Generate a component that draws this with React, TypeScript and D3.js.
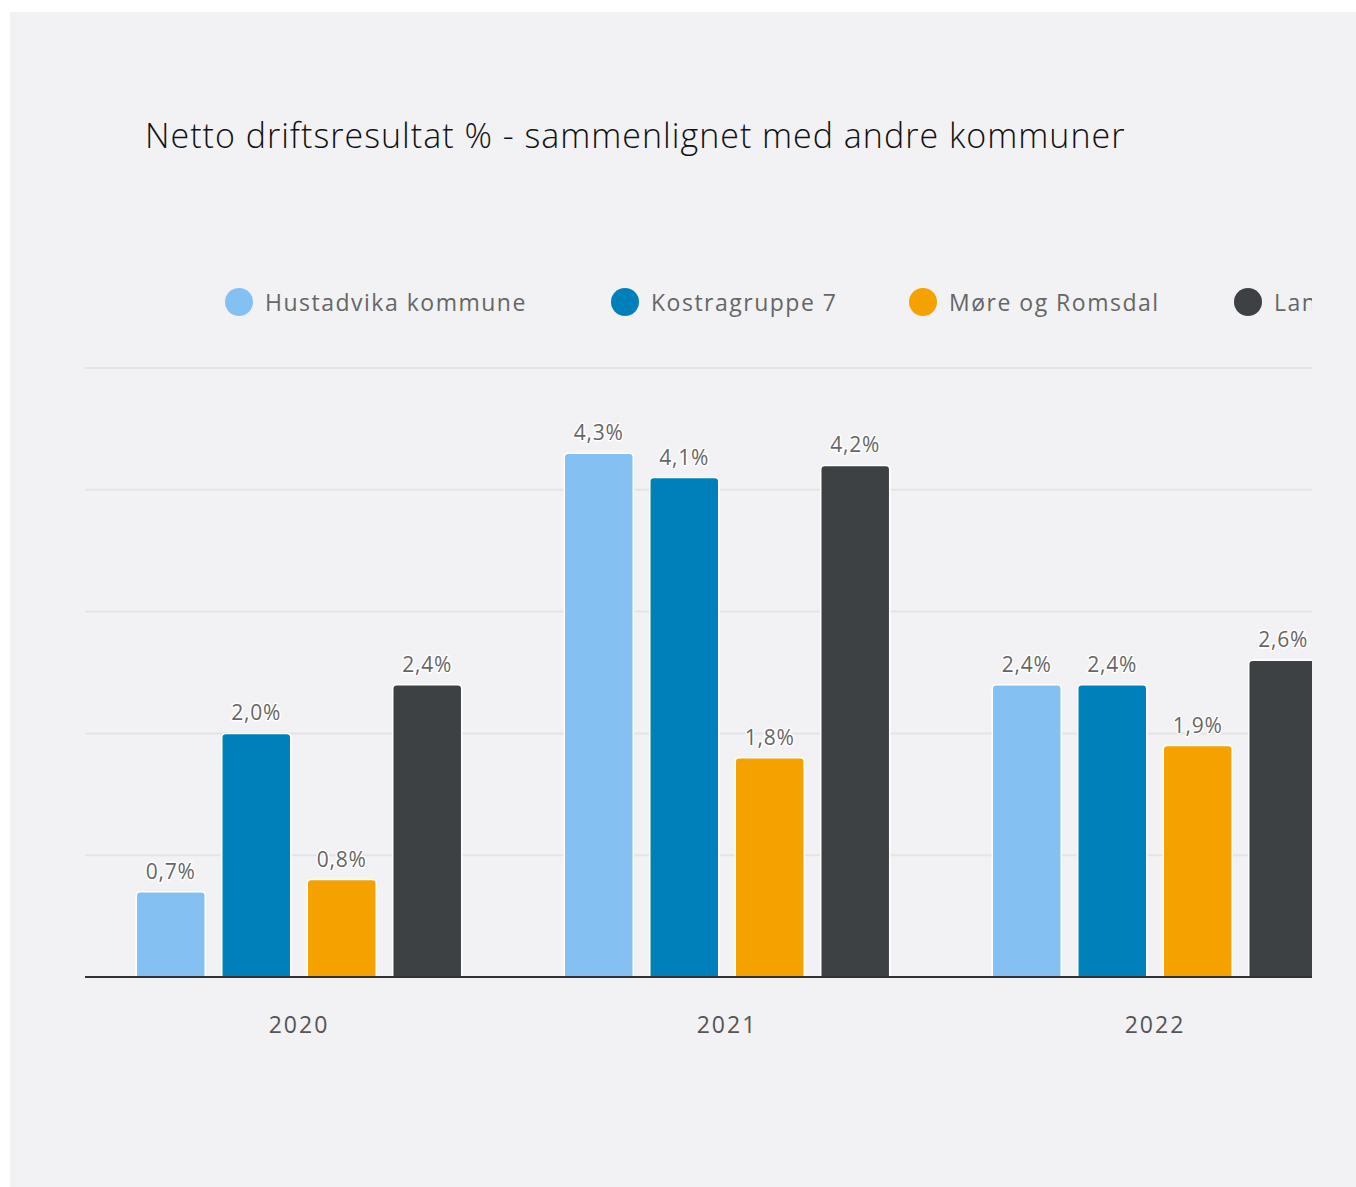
import React, { useRef, useEffect } from 'react';
import * as d3 from 'd3';

const years = ['2020', '2021', '2022'];
const seriesNames = ['Hustadvika kommune', 'Kostragruppe 7', 'Møre og Romsdal', 'Landet uten Oslo'];
const hustadvika = [0.7, 4.3, 2.4];
const kostra7 = [2.0, 4.1, 2.4];
const moreRomsdal = [0.8, 1.8, 1.9];
const landet = [2.4, 4.2, 2.6];
const colors = ['#85c0f3', '#0080bb', '#f5a100', '#3d4143'];
const yTicks = [0, 1, 2, 3, 4, 5];
const legendX = [225, 611, 909, 1234];

const W = 1346;
const H = 1175;
const FONT = '"Open Sans", Lato, sans-serif';

export default function App() {
  const svgRef = useRef<SVGSVGElement>(null);

  useEffect(() => {
    if (!svgRef.current) return;
    const svg = d3.select(svgRef.current);
    svg.selectAll('*').remove();

    const values = [hustadvika, kostra7, moreRomsdal, landet];
    const left = 75, right = 1302, top = 356, bottom = 965;

    svg.append('rect').attr('width', W).attr('height', H).attr('fill', '#f2f2f4');

    svg.append('defs').append('clipPath').attr('id', 'plotclip')
      .append('rect').attr('x', 0).attr('y', 0).attr('width', right).attr('height', H);

    svg.append('text')
      .attr('x', 135).attr('y', 136)
      .attr('font-family', FONT).attr('font-size', 34).attr('font-weight', 300)
      .attr('letter-spacing', 1).attr('fill', '#111')
      .text('Netto driftsresultat % - sammenlignet med andre kommuner');

    const root = svg.append('g').attr('clip-path', 'url(#plotclip)');

    // legend
    const leg = root.append('g');
    seriesNames.forEach((name, i) => {
      const g = leg.append('g').attr('transform', `translate(${legendX[i] - 10},290)`);
      g.append('circle').attr('cx', 14).attr('cy', 0).attr('r', 14).attr('fill', colors[i]);
      g.append('text').attr('x', 40).attr('y', 8.5)
        .attr('font-family', FONT).attr('font-size', 23).attr('letter-spacing', 1.5)
        .attr('fill', '#666')
        .text(name);
    });

    const x = d3.scaleBand().domain(years).range([left, left + 428 * 3]).padding(0);
    const xSub = d3.scaleBand().domain(seriesNames).range([0, x.bandwidth()])
      .paddingInner(0.193).paddingOuter(0.6);
    const y = d3.scaleLinear().domain([0, 5]).range([bottom, top]);

    root.append('g').selectAll('line').data(yTicks.slice(1)).join('line')
      .attr('x1', left).attr('x2', right)
      .attr('y1', d => y(d)).attr('y2', d => y(d))
      .attr('stroke', '#e4e4e6').attr('stroke-width', 2);

    const r = 4;
    const barPath = (x0: number, y0: number, w: number, h: number) =>
      `M${x0},${y0 + h}V${y0 + r}Q${x0},${y0} ${x0 + r},${y0}H${x0 + w - r}Q${x0 + w},${y0} ${x0 + w},${y0 + r}V${y0 + h}Z`;

    years.forEach((yr, yi) => {
      seriesNames.forEach((s, si) => {
        const v = values[si][yi];
        const bx = (x(yr) as number) + (xSub(s) as number);
        const bw = xSub.bandwidth();
        const by = y(v);
        root.append('path')
          .attr('d', barPath(bx, by, bw, bottom - by))
          .attr('fill', colors[si]).attr('stroke', '#fff').attr('stroke-width', 1.5);
        root.append('text')
          .attr('x', bx + bw / 2).attr('y', by - 13)
          .attr('text-anchor', 'middle')
          .attr('font-family', FONT).attr('font-size', 21).attr('letter-spacing', 0.8)
          .attr('fill', '#666')
          .attr('stroke', '#fff').attr('stroke-width', 3).attr('paint-order', 'stroke')
          .attr('stroke-linejoin', 'round')
          .text(d3.format('.1f')(v).replace('.', ',') + '%');
      });
    });

    root.append('line')
      .attr('x1', left).attr('x2', right).attr('y1', bottom).attr('y2', bottom)
      .attr('stroke', '#333').attr('stroke-width', 2);

    root.append('g').selectAll('text').data(years).join('text')
      .attr('x', d => (x(d) as number) + x.bandwidth() / 2)
      .attr('y', bottom + 56)
      .attr('text-anchor', 'middle')
      .attr('font-family', FONT).attr('font-size', 23).attr('letter-spacing', 2)
      .attr('fill', '#555')
      .text(d => d);
  }, []);

  return (
    <svg ref={svgRef} width={W} height={H}
      style={{ position: 'absolute', left: 10, top: 12, display: 'block' }} />
  );
}
